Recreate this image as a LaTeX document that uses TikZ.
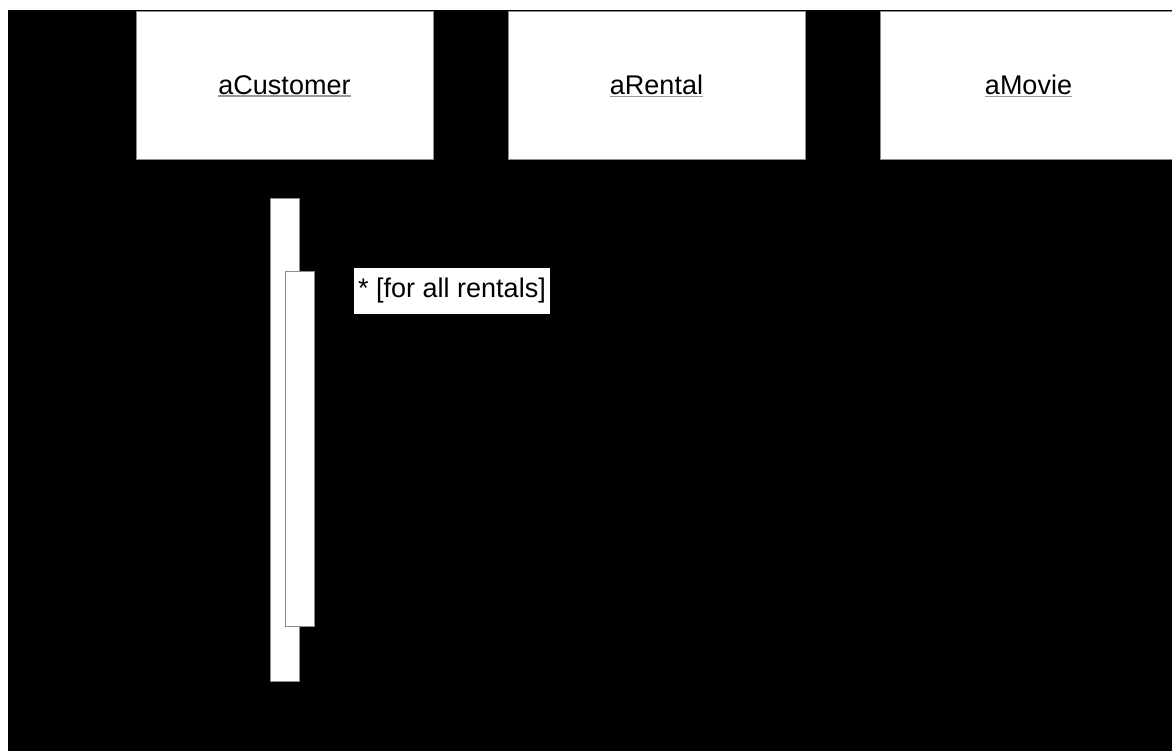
\documentclass[tikz,border=0pt]{standalone}
\usepackage{fontspec}
\setmainfont{Liberation Sans}
\newcommand{\grayul}[1]{\raisebox{-2pt}{\setbox0\hbox{#1}\rlap{\color{black!40}\rule[-2.5pt]{\wd0}{1.5pt}}\box0}}
\tikzset{
  objbox/.style={draw=black!45, line width=1pt, fill=white, minimum width=297pt, minimum height=148pt, inner sep=0pt, font=\fontsize{27}{32}\selectfont},
  actbar/.style={draw=black!45, line width=1pt, fill=white, minimum width=29pt, inner sep=0pt},
  guard/.style={fill=white, inner xsep=4.5pt, inner ysep=0pt, minimum height=46pt, font=\fontsize{27}{32}\selectfont}
}
\begin{document}
\begin{tikzpicture}[x=1pt,y=-1pt]
\useasboundingbox (0,0) rectangle (1172,751);
\clip (0,0) rectangle (1172,751);
\fill[white] (0,0) rectangle (1172,751);
\fill[black] (8,10) rectangle (1172,751);
\node[objbox] (cust) at (284.5,86) {\grayul{aCustomer}};
\node[objbox] (rental) at (656.5,86) {\grayul{aRental}};
\node[objbox] (movie) at (1028.5,86) {\grayul{aMovie}};
\node[actbar, minimum height=482pt] (act1) at (284.5,440) {};
\node[actbar, minimum height=354pt] (act2) at (299.5,449) {};
\node[guard] (loop) at (452,291) {* [for all rentals]};
\end{tikzpicture}
\end{document}
